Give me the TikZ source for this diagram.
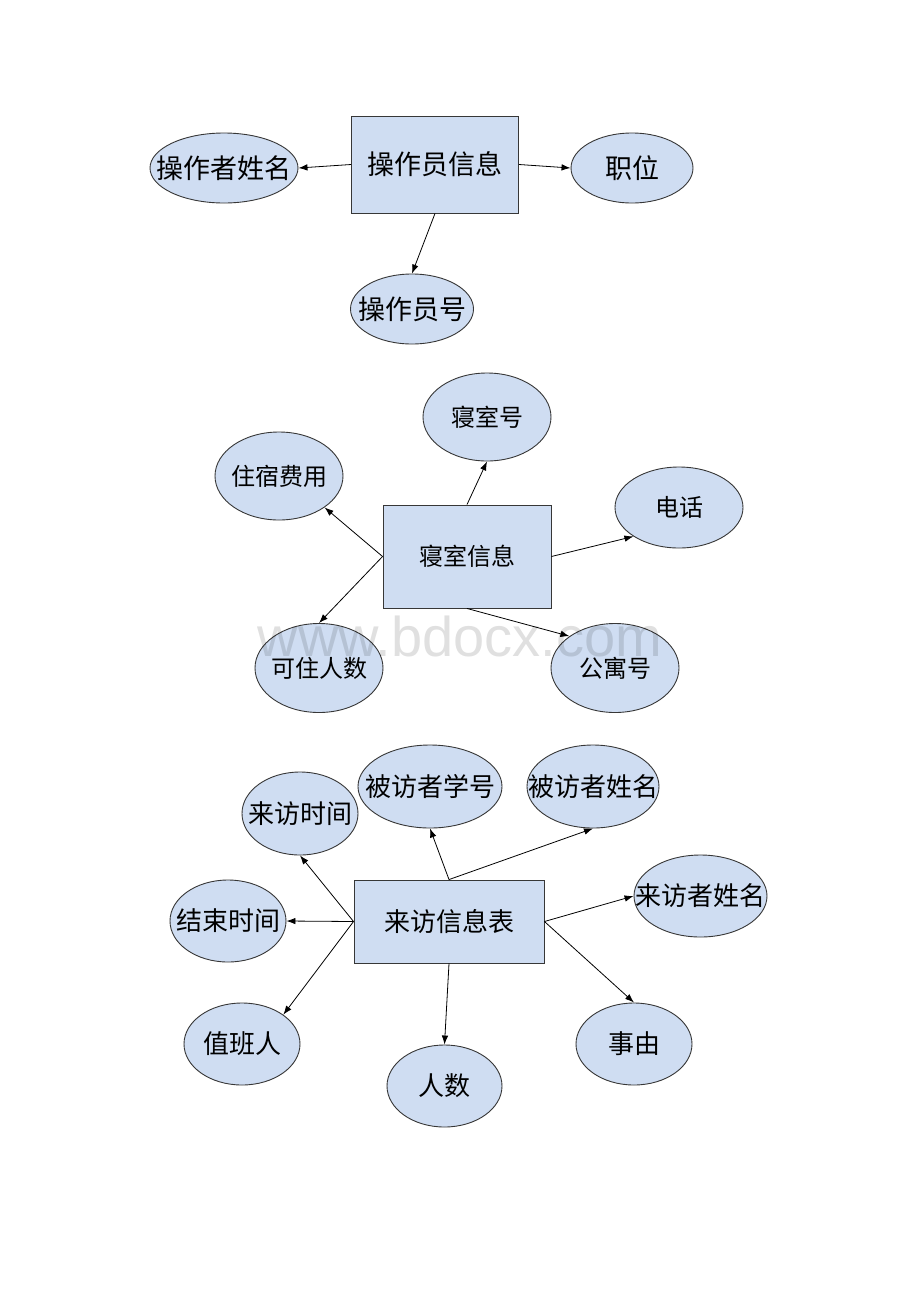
\documentclass[tikz,border=0pt]{standalone}
\usepackage{fontspec}
\setmainfont{Noto Sans CJK SC}
\newfontfamily\wmfont{Liberation Sans}
\usetikzlibrary{shapes.geometric,arrows.meta}
\definecolor{boxfill}{RGB}{207,221,242}
\definecolor{edgec}{RGB}{55,55,55}
\newcommand\zw[1]{\makebox[0pt]{#1}}
\tikzset{
  ent/.style={draw=edgec, fill=boxfill, rectangle, line width=0.9pt, inner sep=0pt},
  attr/.style={draw=edgec, fill=boxfill, ellipse, line width=0.9pt, inner sep=0pt},
  arr/.style={-{Latex[length=9pt,width=6.5pt]}, line width=0.8pt, black},
  fa/.style={font=\fontsize{27}{27}\selectfont},
  fb/.style={font=\fontsize{24}{24}\selectfont},
  fc/.style={font=\fontsize{26}{26}\selectfont}
}
\begin{document}
\begin{tikzpicture}[x=1pt,y=-1pt]
\fill[white] (0,0) rectangle (920,1302);
\useasboundingbox (0,0) rectangle (920,1302);
% section 1
\node[ent,fa,minimum width=167pt,minimum height=97pt] (r1) at (435,164.5) {操作员信息};
\node[attr,fa,minimum width=148pt,minimum height=70pt] (a1) at (224,168) {\zw{操作者姓名}};
\node[attr,fa,minimum width=122pt,minimum height=70pt] (a2) at (632,168) {\zw{职位}};
\node[attr,fa,minimum width=123pt,minimum height=70pt] (a3) at (412,309) {\zw{操作员号}};
\draw[arr] (r1.west) -- (a1.east);
\draw[arr] (r1.east) -- (a2.west);
\draw[arr] (r1.south) -- (a3.north);
% section 2
\node[ent,fb,minimum width=168pt,minimum height=103pt] (r2) at (467,556.5) {寝室信息};
\node[attr,fb,minimum width=128pt,minimum height=88pt] (b1) at (487,417) {\zw{寝室号}};
\node[attr,fb,minimum width=128pt,minimum height=88pt] (b2) at (279,476) {\zw{住宿费用}};
\node[attr,fb,minimum width=128pt,minimum height=81pt] (b3) at (679,507.5) {\zw{电话}};
\node[attr,fb,minimum width=128pt,minimum height=89pt] (b4) at (319,668) {\zw{可住人数}};
\node[attr,fb,minimum width=128pt,minimum height=89pt] (b5) at (615,668) {\zw{公寓号}};
\draw[arr] (r2.north) -- (b1.south);
\draw[arr] (r2.west) -- (b2.south east);
\draw[arr] (r2.east) -- (b3.south west);
\draw[arr] (r2.west) -- (b4.north);
\draw[arr] (r2.south) -- (b5.north west);
% section 3
\node[ent,fc,minimum width=190pt,minimum height=83pt] (r3) at (449,921.5) {来访信息表};
\node[attr,fc,minimum width=116pt,minimum height=83pt] (c1) at (300,813.5) {\zw{来访时间}};
\node[attr,fc,minimum width=144pt,minimum height=83pt] (c2) at (430,786.5) {\zw{被访者学号}};
\node[attr,fc,minimum width=132pt,minimum height=83pt] (c3) at (593,786.5) {\zw{被访者姓名}};
\node[attr,fc,minimum width=133pt,minimum height=82pt] (c4) at (700.5,896) {\zw{来访者姓名}};
\node[attr,fc,minimum width=116pt,minimum height=82pt] (c5) at (228,921) {\zw{结束时间}};
\node[attr,fc,minimum width=116pt,minimum height=82pt] (c6) at (242,1044) {\zw{值班人}};
\node[attr,fc,minimum width=115pt,minimum height=82pt] (c7) at (444.5,1086) {\zw{人数}};
\node[attr,fc,minimum width=116pt,minimum height=82pt] (c8) at (634,1044) {\zw{事由}};
\draw[arr] (r3.north) -- (c2.south);
\draw[arr] (r3.north) -- (c3.south);
\draw[arr] (r3.west) -- (c1.south);
\draw[arr] (r3.west) -- (c5.east);
\draw[arr] (r3.west) -- (c6.north east);
\draw[arr] (r3.east) -- (c4.west);
\draw[arr] (r3.east) -- (c8.north);
\draw[arr] (r3.south) -- (c7.north);
% watermark
\node[text=black, text opacity=0.12, font=\wmfont\fontsize{56}{56}\selectfont] (wm) at (460,636) {www.bdocx.com};
\end{tikzpicture}
\end{document}
